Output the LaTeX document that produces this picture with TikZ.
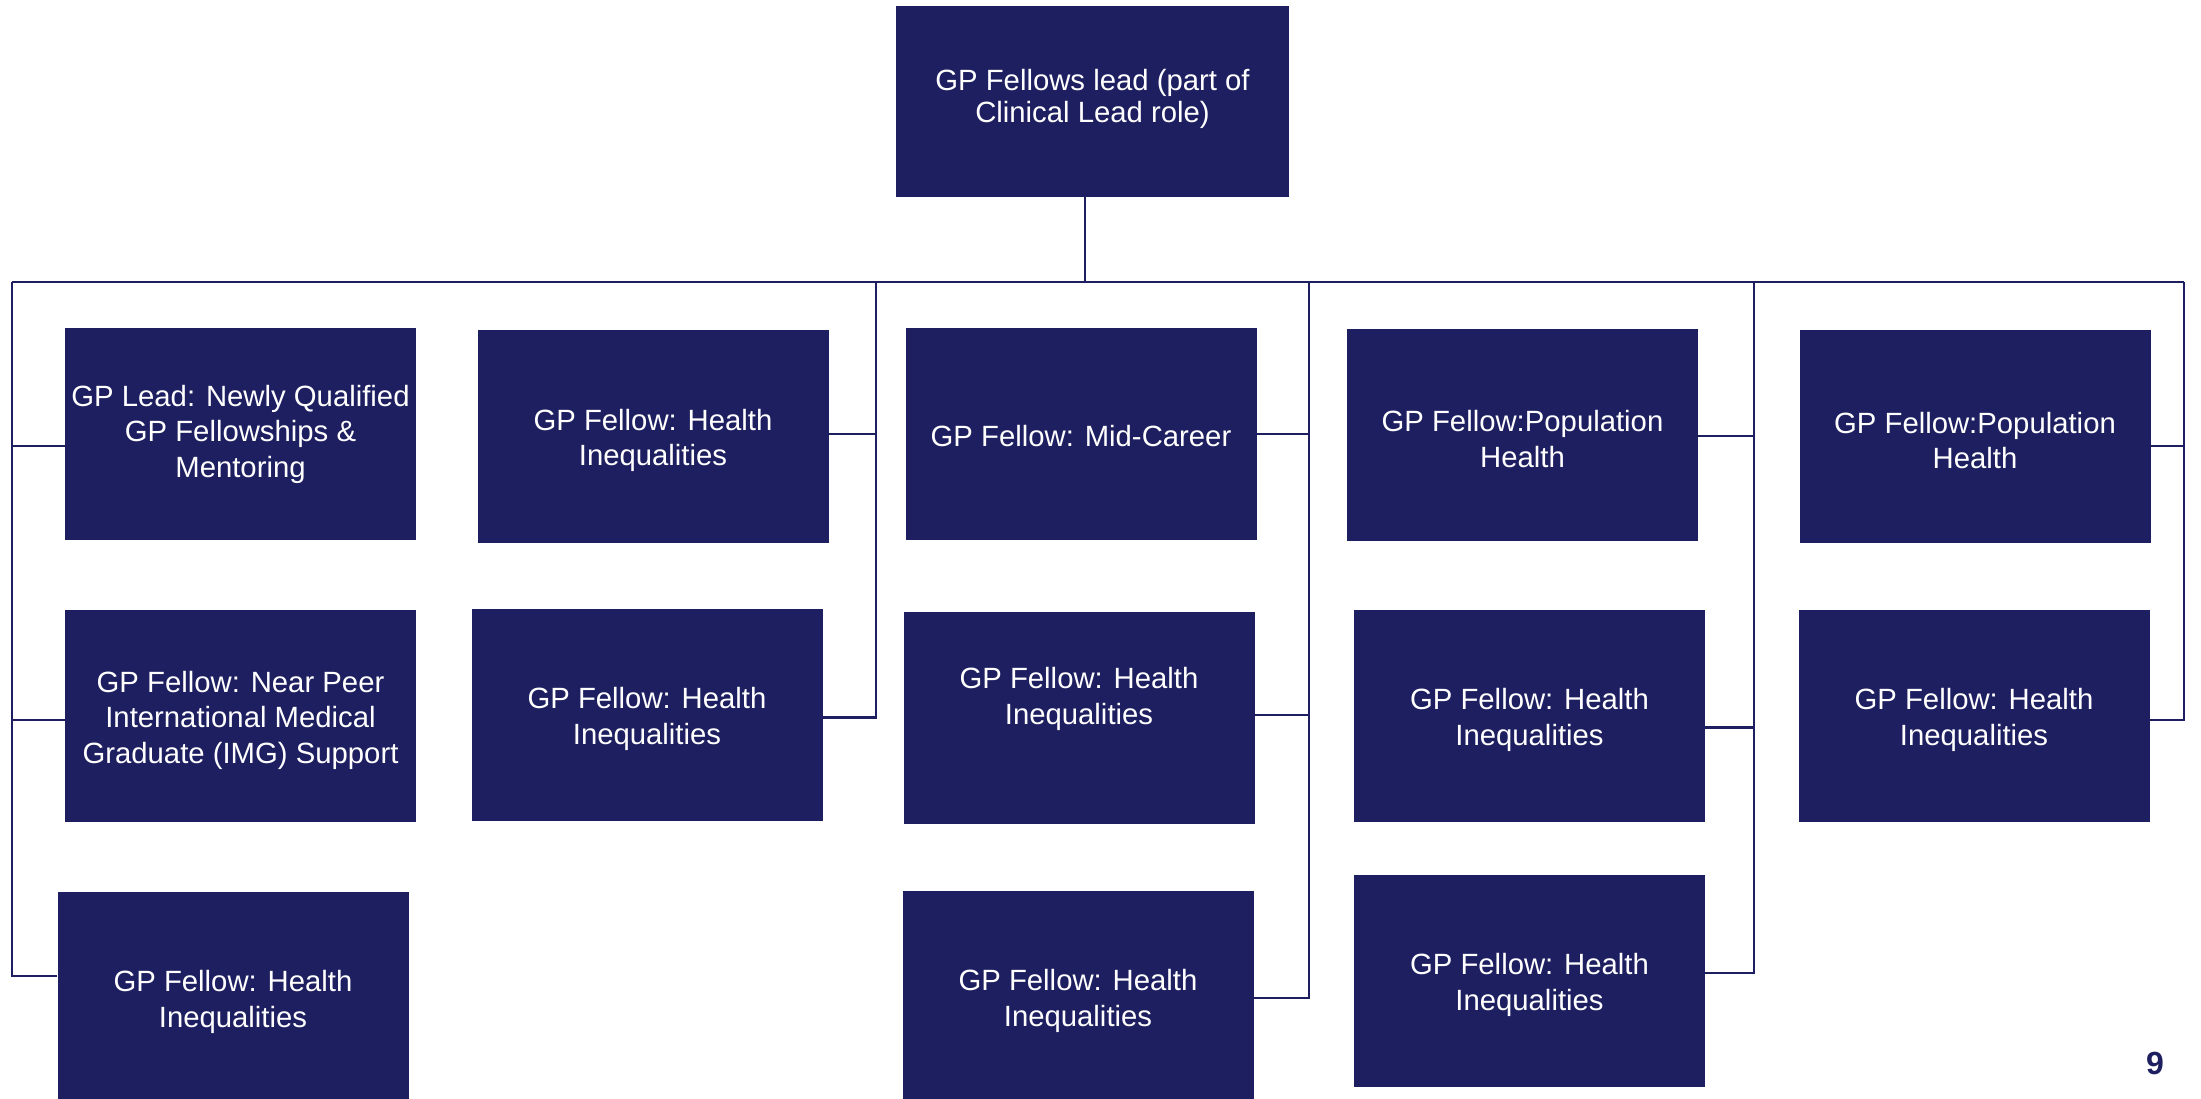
\documentclass[tikz,border=0pt]{standalone}
\usepackage{fontspec}
\setmainfont{Liberation Sans}
\definecolor{navy}{RGB}{30,31,96}
\begin{document}
\begin{tikzpicture}[x=1pt,y=-1pt,
  box/.style={fill=navy,draw=none,inner sep=0pt,minimum width=351pt,minimum height=212pt},
  txt/.style={text=white,align=center,inner sep=0pt,yshift=-4pt,font=\fontsize{29.3}{35.5}\selectfont},
  conn/.style={draw=navy,line width=2.5pt}]
\useasboundingbox (0,0) rectangle (2201,1099);
\clip (0,0) rectangle (2201,1099);
% top
\node[box,minimum width=393pt,minimum height=191pt,
  label={[txt,yshift=6.5pt,font=\fontsize{29.3}{32.5}\selectfont]center:{GP Fellows lead (part of\\Clinical Lead role)}}] (top) at (1092.5,101.5) {};
% column 1
\node[box,label={[txt,yshift=4pt]center:{GP Lead: Newly Qualified\\GP Fellowships \&\\Mentoring}}] (c1r1) at (240.5,434) {};
\node[box,label={[txt]center:{GP Fellow: Near Peer\\International Medical\\Graduate (IMG) Support}}] (c1r2) at (240.5,716) {};
\node[box,label={[txt]center:{GP Fellow: Health\\Inequalities}}] (c1r3) at (233,998) {};
% column 2
\node[box,label={[txt]center:{GP Fellow: Health\\Inequalities}}] (c2r1) at (653,436.5) {};
\node[box,label={[txt]center:{GP Fellow: Health\\Inequalities}}] (c2r2) at (647,715) {};
% column 3
\node[box,label={[txt,yshift=2pt]center:{GP Fellow: Mid-Career}}] (c3r1) at (1081,434) {};
\node[box,label={[txt,yshift=23pt]center:{GP Fellow: Health\\Inequalities}}] (c3r2) at (1079,718) {};
\node[box,label={[txt]center:{GP Fellow: Health\\Inequalities}}] (c3r3) at (1078,997) {};
% column 4
\node[box,label={[txt]center:{GP Fellow:Population\\Health}}] (c4r1) at (1522.5,435) {};
\node[box,label={[txt]center:{GP Fellow: Health\\Inequalities}}] (c4r2) at (1529.5,716) {};
\node[box,label={[txt]center:{GP Fellow: Health\\Inequalities}}] (c4r3) at (1529.5,981) {};
% column 5
\node[box,label={[txt]center:{GP Fellow:Population\\Health}}] (c5r1) at (1975,436.5) {};
\node[box,label={[txt]center:{GP Fellow: Health\\Inequalities}}] (c5r2) at (1974,716) {};
% page number
\node[text=navy,font=\fontsize{32}{36}\selectfont\bfseries,inner sep=0pt] (pnum) at (2155,1063) {9};
% bus and spines
\coordinate (bL) at (12,282);
\coordinate (bR) at (2184,282);
\coordinate (s2) at (876,282);
\coordinate (s3) at (1309,282);
\coordinate (s4) at (1754,282);
\coordinate (tc) at (1085,282);
\draw[conn] (bL) -- (bR);
\draw[conn] (top.south -| tc) -- (tc);
% column 1 connectors (left side)
\draw[conn] (c1r1.west |- 0,446) -| (bL);
\draw[conn] (c1r2.west |- 0,720) -| (bL);
\draw[conn] (c1r3.west |- 0,976) -| (bL);
% column 2 connectors (right side)
\draw[conn] (c2r1.east |- 0,434) -| (s2);
\draw[conn] (c2r2.east |- 0,717.5) -| (s2);
% column 3
\draw[conn] (c3r1.east |- 0,434) -| (s3);
\draw[conn] (c3r2.east |- 0,715) -| (s3);
\draw[conn] (c3r3.east |- 0,998) -| (s3);
% column 4
\draw[conn] (c4r1.east |- 0,436) -| (s4);
\draw[conn] (c4r2.east |- 0,727.5) -| (s4);
\draw[conn] (c4r3.east |- 0,973) -| (s4);
% column 5
\draw[conn] (c5r1.east |- 0,446) -| (bR);
\draw[conn] (c5r2.east |- 0,720) -| (bR);
\end{tikzpicture}
\end{document}
